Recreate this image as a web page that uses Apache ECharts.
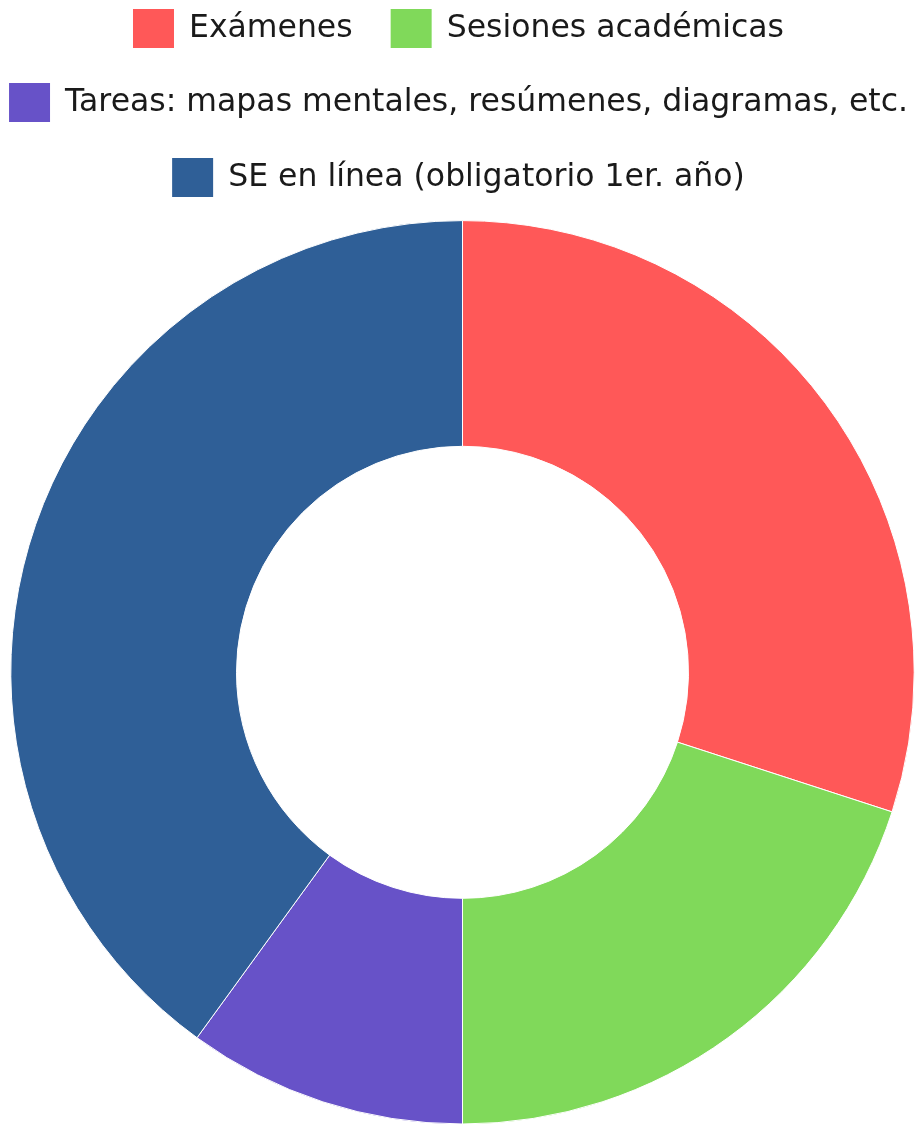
<!DOCTYPE html>
<html>
<head>
<meta charset="utf-8">
<script src="https://cdn.jsdelivr.net/npm/echarts@6/dist/echarts.min.js"></script>
<style>
html,body{margin:0;padding:0;background:#fff;}
#main{width:915px;height:1128px;}
</style>
</head>
<body>
<div id="main"></div>
<script>
const categories = ["Exámenes", "Sesiones académicas", "Tareas: mapas mentales, resúmenes, diagramas, etc.", "SE en línea (obligatorio 1er. año)"];
const values = [30, 20, 10, 40];
const colors = ["#ff5858", "#80d95a", "#6752c8", "#2f5f97"];

const chart = echarts.init(document.getElementById('main'));
const fontFamily = '"DejaVu Sans", sans-serif';
const legendBase = {
  left: 'center',
  orient: 'horizontal',
  padding: 0,
  itemWidth: 43,
  itemHeight: 41,
  itemGap: 36,
  icon: 'rect',
  selectedMode: false,
  textStyle: {fontFamily: fontFamily, fontSize: 31.5, color: '#1a1a1a', lineHeight: 41, padding: [0, 0, 0, 9]}
};
const option = {
  animation: false,
  color: colors,
  legend: [
    Object.assign({}, legendBase, {top: 7, data: [categories[0], categories[1]]}),
    Object.assign({}, legendBase, {top: 81, data: [categories[2]]}),
    Object.assign({}, legendBase, {top: 156, data: [categories[3]]})
  ],
  series: [{
    type: 'pie',
    center: [462.5, 672.3],
    radius: [226, 451.7],
    startAngle: 90,
    clockwise: true,
    label: {show: false},
    labelLine: {show: false},
    emphasis: {disabled: true},
    itemStyle: {borderColor: '#ffffff', borderWidth: 1},
    data: categories.map((c, i) => ({name: c, value: values[i]}))
  }]
};
chart.setOption(option);
</script>
</body>
</html>
